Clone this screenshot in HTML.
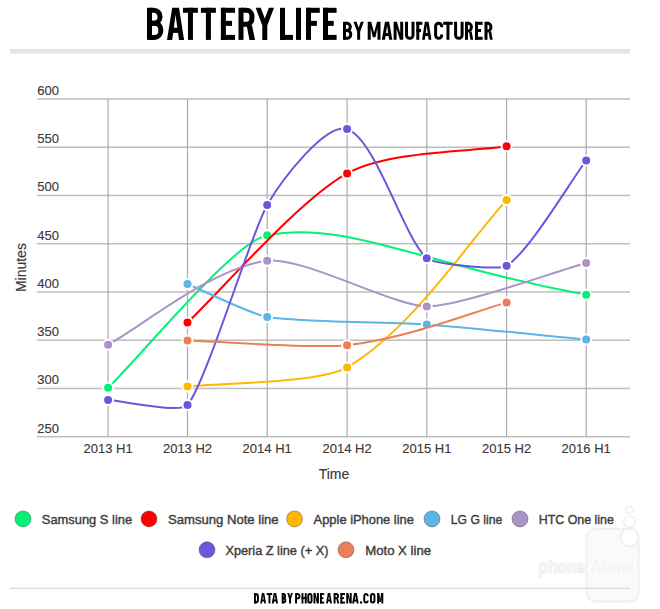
<!DOCTYPE html>
<html><head><meta charset="utf-8"><style>
html,body{margin:0;padding:0;background:#fff;}
body{width:660px;height:609px;overflow:hidden;position:relative;}
svg{position:absolute;left:0;top:0;display:block;}
text{font-family:"Liberation Sans",sans-serif;}
.tx{fill:#3a3a3a;stroke:#3a3a3a;stroke-width:0.15px;}
.lg{fill:#3d3d3d;stroke:#3d3d3d;stroke-width:0.4px;}
</style></head><body>
<svg width="660" height="609" viewBox="0 0 660 609">
<rect x="0" y="0" width="660" height="609" fill="#fff"/>
<g id="title" fill="#000" font-weight="bold">
<rect x="147" y="7.8" width="5" height="32.1"/><path d="M149.5,10.3 H153.74 A6.25,6.25 0 0 1 159.99,16.55 V16.96 A6.25,6.25 0 0 1 153.74,23.21 H149.5" fill="none" stroke="#000" stroke-width="5"/><path d="M149.5,23.21 H154.3 A6.5,6.5 0 0 1 160.8,29.71 V30.9 A6.5,6.5 0 0 1 154.3,37.4 H149.5" fill="none" stroke="#000" stroke-width="5"/><path d="M167,39.9 L172.2,7.8 L179,7.8 L184.1,39.9 L179,39.9 L175.55,14.86 L172.2,39.9 Z"/><rect x="169.6" y="27.7" width="11.9" height="5.2"/><rect x="183" y="7.8" width="14.9" height="5"/><rect x="187.95" y="7.8" width="5" height="32.1"/><rect x="200.9" y="7.8" width="15" height="5"/><rect x="205.9" y="7.8" width="5" height="32.1"/><rect x="220.9" y="7.8" width="5" height="32.1"/><rect x="220.9" y="7.8" width="14.1" height="5"/><rect x="220.9" y="20.87" width="11.14" height="5"/><rect x="220.9" y="34.9" width="14.1" height="5"/><rect x="238.5" y="7.8" width="5" height="32.1"/><path d="M241,10.3 H246.44 A5.5,5.5 0 0 1 251.94,15.8 V18.74 A5.5,5.5 0 0 1 246.44,24.24 H241" fill="none" stroke="#000" stroke-width="5"/><path d="M246.63,25.24 L251.95,25.24 L255.1,39.9 L249.46,39.9 Z"/><path d="M255.6,7.8 L260.7,7.8 L264.8,18.39 L268.9,7.8 L274,7.8 L267.3,25.46 L267.3,39.9 L262.3,39.9 L262.3,25.46 Z"/><rect x="280" y="7.8" width="5" height="32.1"/><rect x="280" y="34.9" width="13" height="5"/><rect x="296" y="7.8" width="5" height="32.1"/><rect x="306" y="7.8" width="5" height="32.1"/><rect x="306" y="7.8" width="13.8" height="5"/><rect x="306" y="20.87" width="10.9" height="5"/><rect x="323" y="7.8" width="5" height="32.1"/><rect x="323" y="7.8" width="13.6" height="5"/><rect x="323" y="20.87" width="10.74" height="5"/><rect x="323" y="34.9" width="13.6" height="5"/><rect x="343" y="21.8" width="3" height="18"/><path d="M344.5,23.3 H346.77 A3.57,3.57 0 0 1 350.34,26.87 V26.87 A3.57,3.57 0 0 1 346.77,30.44 H344.5" fill="none" stroke="#000" stroke-width="3"/><path d="M344.5,30.44 H346.9 A3.9,3.9 0 0 1 350.8,34.34 V34.4 A3.9,3.9 0 0 1 346.9,38.3 H344.5" fill="none" stroke="#000" stroke-width="3"/><path d="M353.5,21.8 L356.56,21.8 L358.65,27.74 L360.74,21.8 L363.8,21.8 L360.15,31.7 L360.15,39.8 L357.15,39.8 L357.15,31.7 Z"/><path d="M367.7,21.8 L371.15,21.8 L374.1,32.6 L377.05,21.8 L380.5,21.8 L380.5,39.8 L377.5,39.8 L377.5,27.74 L375.45,37.28 L372.75,37.28 L370.7,27.74 L370.7,39.8 L367.7,39.8 Z"/><path d="M381.8,39.8 L384.99,21.8 L389.17,21.8 L392.3,39.8 L389.17,39.8 L387.05,25.76 L384.99,39.8 Z"/><rect x="383.4" y="32.96" width="7.31" height="3.12"/><path d="M393.6,21.8 L396.9,21.8 L400.2,32.96 L400.2,21.8 L403.2,21.8 L403.2,39.8 L399.9,39.8 L396.6,28.64 L396.6,39.8 L393.6,39.8 Z"/><path d="M406.5,21.8 V35.3 A3,3 0 0 0 409.5,38.3 H410 A3,3 0 0 0 413,35.3 V21.8" fill="none" stroke="#000" stroke-width="3"/><rect x="416.3" y="21.8" width="3" height="18"/><rect x="416.3" y="21.8" width="6" height="3"/><rect x="416.3" y="29.03" width="4.74" height="3"/><path d="M422,39.8 L424.86,21.8 L428.6,21.8 L431.4,39.8 L428.6,39.8 L426.7,25.76 L424.86,39.8 Z"/><rect x="423.43" y="32.96" width="6.54" height="3.12"/><path d="M441.7,27.2 V26.3 A3,3 0 0 0 438.7,23.3 H438.6 A3,3 0 0 0 435.6,26.3 V35.3 A3,3 0 0 0 438.6,38.3 H438.7 A3,3 0 0 0 441.7,35.3 V34.4" fill="none" stroke="#000" stroke-width="3"/><rect x="443.2" y="21.8" width="9.5" height="3"/><rect x="446.45" y="21.8" width="3" height="18"/><path d="M455.6,21.8 V35.3 A3,3 0 0 0 458.6,38.3 H459.1 A3,3 0 0 0 462.1,35.3 V21.8" fill="none" stroke="#000" stroke-width="3"/><rect x="465" y="21.8" width="3" height="18"/><path d="M466.5,23.3 H468.07 A3.3,3.3 0 0 1 471.37,26.6 V27.62 A3.3,3.3 0 0 1 468.07,30.92 H466.5" fill="none" stroke="#000" stroke-width="3"/><path d="M469.02,31.52 L471.64,31.52 L473.2,39.8 L470.41,39.8 Z"/><rect x="475" y="21.8" width="3" height="18"/><rect x="475" y="21.8" width="7.7" height="3"/><rect x="475" y="29.03" width="6.08" height="3"/><rect x="475" y="36.8" width="7.7" height="3"/><rect x="484.5" y="21.8" width="3" height="18"/><path d="M486,23.3 H487.57 A3.3,3.3 0 0 1 490.87,26.6 V27.62 A3.3,3.3 0 0 1 487.57,30.92 H486" fill="none" stroke="#000" stroke-width="3"/><path d="M488.52,31.52 L491.14,31.52 L492.7,39.8 L489.91,39.8 Z"/>
</g>
<rect x="10" y="49" width="620" height="4.6" fill="#e4e4e4"/>
<g id="grid"><rect x="37" y="98.25" width="593" height="1.5" fill="#bdbdbd"/><rect x="37" y="146.49" width="593" height="1.5" fill="#bdbdbd"/><rect x="37" y="194.74" width="593" height="1.5" fill="#bdbdbd"/><rect x="37" y="242.98" width="593" height="1.5" fill="#bdbdbd"/><rect x="37" y="291.22" width="593" height="1.5" fill="#bdbdbd"/><rect x="37" y="339.46" width="593" height="1.5" fill="#bdbdbd"/><rect x="37" y="387.71" width="593" height="1.5" fill="#bdbdbd"/><rect x="37" y="435.95" width="593" height="1.5" fill="#bdbdbd"/> <rect x="107.50" y="99" width="1.2" height="337.7" fill="#ababab"/><rect x="186.90" y="99" width="1.2" height="337.7" fill="#ababab"/><rect x="266.60" y="99" width="1.2" height="337.7" fill="#ababab"/><rect x="346.50" y="99" width="1.2" height="337.7" fill="#ababab"/><rect x="426.20" y="99" width="1.2" height="337.7" fill="#ababab"/><rect x="506.00" y="99" width="1.2" height="337.7" fill="#ababab"/><rect x="585.60" y="99" width="1.2" height="337.7" fill="#ababab"/></g>
<g class="tx" font-size="13"><text x="37.3" y="94.8">600</text><text x="37.3" y="143.0">550</text><text x="37.3" y="191.3">500</text><text x="37.3" y="239.5">450</text><text x="37.3" y="287.8">400</text><text x="37.3" y="336.0">350</text><text x="37.3" y="384.3">300</text><text x="37.3" y="432.5">250</text> <text x="108.1" y="452.8" text-anchor="middle">2013 H1</text><text x="187.5" y="452.8" text-anchor="middle">2013 H2</text><text x="267.2" y="452.8" text-anchor="middle">2014 H1</text><text x="347.1" y="452.8" text-anchor="middle">2014 H2</text><text x="426.8" y="452.8" text-anchor="middle">2015 H1</text><text x="506.6" y="452.8" text-anchor="middle">2015 H2</text><text x="586.2" y="452.8" text-anchor="middle">2016 H1</text></g>
<text x="334" y="478.9" text-anchor="middle" font-size="14" class="tx">Time</text>
<text transform="translate(25.5,267.6) rotate(-90)" text-anchor="middle" font-size="14" class="tx">Minutes</text>
<g id="lines"><path d="M108.1,387.8 C139.9,357.3 233.8,241.7 267.2,235.2 C345.7,219.9 419.1,263.6 586.2,294.8" fill="none" stroke="#00f276" stroke-width="2"/><circle cx="108.1" cy="387.8" r="5" fill="#00f276" stroke="#fff" stroke-width="2"/><circle cx="267.2" cy="235.2" r="5" fill="#00f276" stroke="#fff" stroke-width="2"/><circle cx="586.2" cy="294.8" r="5" fill="#00f276" stroke="#fff" stroke-width="2"/><path d="M187.5,322.5 C219.4,292.7 298.1,200.5 347.1,173.4 C389.1,150.2 474.7,151.7 506.6,146.3" fill="none" stroke="#ff0000" stroke-width="2"/><circle cx="187.5" cy="322.5" r="5" fill="#ff0000" stroke="#fff" stroke-width="2"/><circle cx="347.1" cy="173.4" r="5" fill="#ff0000" stroke="#fff" stroke-width="2"/><circle cx="506.6" cy="146.3" r="5" fill="#ff0000" stroke="#fff" stroke-width="2"/><path d="M187.5,386.6 C219.4,382.8 319.5,383.5 347.1,367.4 C412.7,329.1 474.7,233.6 506.6,200.1" fill="none" stroke="#ffb800" stroke-width="2"/><circle cx="187.5" cy="386.6" r="5" fill="#ffb800" stroke="#fff" stroke-width="2"/><circle cx="347.1" cy="367.4" r="5" fill="#ffb800" stroke="#fff" stroke-width="2"/><circle cx="506.6" cy="200.1" r="5" fill="#ffb800" stroke="#fff" stroke-width="2"/><path d="M187.5,284.0 C203.4,290.6 250.2,314.0 267.2,316.9 C298.7,322.2 394.9,322.1 426.8,324.4 C458.7,326.7 554.3,336.5 586.2,339.5" fill="none" stroke="#5db4e6" stroke-width="2"/><circle cx="187.5" cy="284.0" r="5" fill="#5db4e6" stroke="#fff" stroke-width="2"/><circle cx="267.2" cy="316.9" r="5" fill="#5db4e6" stroke="#fff" stroke-width="2"/><circle cx="426.8" cy="324.4" r="5" fill="#5db4e6" stroke="#fff" stroke-width="2"/><circle cx="586.2" cy="339.5" r="5" fill="#5db4e6" stroke="#fff" stroke-width="2"/><path d="M108.1,344.7 C139.9,327.9 212.6,267.3 267.2,260.7 C302.9,256.4 393.6,306.2 426.8,306.4 C459.8,306.6 554.3,271.7 586.2,263.0" fill="none" stroke="#ab92c8" stroke-width="2"/><circle cx="108.1" cy="344.7" r="5" fill="#ab92c8" stroke="#fff" stroke-width="2"/><circle cx="267.2" cy="260.7" r="5" fill="#ab92c8" stroke="#fff" stroke-width="2"/><circle cx="426.8" cy="306.4" r="5" fill="#ab92c8" stroke="#fff" stroke-width="2"/><circle cx="586.2" cy="263.0" r="5" fill="#ab92c8" stroke="#fff" stroke-width="2"/><path d="M108.1,400.1 C124.0,401.1 180.5,413.6 187.5,405.1 C206.5,381.9 251.2,232.7 267.2,205.0 C282.2,179.0 326.2,122.1 347.1,129.1 C375.9,138.7 404.0,238.7 426.8,258.2 C433.6,264.1 498.9,270.5 506.6,265.8 C528.8,252.2 570.3,181.6 586.2,160.5" fill="none" stroke="#6c56dc" stroke-width="2"/><circle cx="108.1" cy="400.1" r="5" fill="#6c56dc" stroke="#fff" stroke-width="2"/><circle cx="187.5" cy="405.1" r="5" fill="#6c56dc" stroke="#fff" stroke-width="2"/><circle cx="267.2" cy="205.0" r="5" fill="#6c56dc" stroke="#fff" stroke-width="2"/><circle cx="347.1" cy="129.1" r="5" fill="#6c56dc" stroke="#fff" stroke-width="2"/><circle cx="426.8" cy="258.2" r="5" fill="#6c56dc" stroke="#fff" stroke-width="2"/><circle cx="506.6" cy="265.8" r="5" fill="#6c56dc" stroke="#fff" stroke-width="2"/><circle cx="586.2" cy="160.5" r="5" fill="#6c56dc" stroke="#fff" stroke-width="2"/><path d="M187.5,340.5 C219.4,341.4 315.3,349.0 347.1,345.2 C410.7,337.7 474.7,311.1 506.6,302.6" fill="none" stroke="#e9805a" stroke-width="2"/><circle cx="187.5" cy="340.5" r="5" fill="#e9805a" stroke="#fff" stroke-width="2"/><circle cx="347.1" cy="345.2" r="5" fill="#e9805a" stroke="#fff" stroke-width="2"/><circle cx="506.6" cy="302.6" r="5" fill="#e9805a" stroke="#fff" stroke-width="2"/></g>
<g id="dots"></g>
<g id="legend" font-size="13" class="lg"><circle cx="23.0" cy="518.9" r="8" fill="#00f276"/><text x="41.8" y="524.2" textLength="90.35" lengthAdjust="spacingAndGlyphs">Samsung S line</text><circle cx="149.0" cy="518.9" r="8" fill="#ff0000"/><text x="168.0" y="524.2" textLength="110.65" lengthAdjust="spacingAndGlyphs">Samsung Note line</text><circle cx="294.5" cy="518.9" r="8" fill="#ffb800"/><text x="313.6" y="524.2" textLength="100.30" lengthAdjust="spacingAndGlyphs">Apple iPhone line</text><circle cx="432.0" cy="518.9" r="8" fill="#5db4e6"/><text x="450.8" y="524.2" textLength="51.36" lengthAdjust="spacingAndGlyphs">LG G line</text><circle cx="520.0" cy="518.9" r="8" fill="#ab92c8"/><text x="538.7" y="524.2" textLength="75.22" lengthAdjust="spacingAndGlyphs">HTC One line</text><circle cx="207.0" cy="549.8" r="8" fill="#6c56dc"/><text x="225.4" y="555.1" textLength="103.00" lengthAdjust="spacingAndGlyphs">Xperia Z line (+ X)</text><circle cx="346.0" cy="549.8" r="8" fill="#e9805a"/><text x="365.2" y="555.1" textLength="65.86" lengthAdjust="spacingAndGlyphs">Moto X line</text></g>
<g id="wm">
<rect x="586.5" y="529" width="52" height="72.5" rx="9" fill="#fafafa" stroke="#f0f0f0" stroke-width="2"/>
<circle cx="629.5" cy="537.5" r="9" fill="#fff" stroke="#efefef" stroke-width="1.8"/>
<circle cx="629.5" cy="521.8" r="5.8" fill="#fff" stroke="#efefef" stroke-width="1.6"/>
<circle cx="629.5" cy="510" r="3.8" fill="#fff" stroke="#f0f0f0" stroke-width="1.5"/>
<text x="538.5" y="573" font-size="19" font-weight="bold" fill="#fbfbfb" stroke="#eeeeee" stroke-width="1.2" textLength="46.5" lengthAdjust="spacingAndGlyphs">phone</text>
<text x="590.5" y="573" font-size="18.5" fill="#f3f3f3" textLength="44" lengthAdjust="spacingAndGlyphs">Arena</text>
</g>
<rect x="10" y="587.7" width="620" height="1" fill="#cfcfcf"/>
<g id="footer" fill="#000" font-weight="bold"><rect x="254" y="593.1" width="1.9" height="10.4"/><path d="M254.95,594.05 H255.48 A2.47,2.47 0 0 1 257.95,596.52 V600.08 A2.47,2.47 0 0 1 255.48,602.55 H254.95" fill="none" stroke="#000" stroke-width="1.9"/><path d="M260.2,603.5 L261.96,593.1 L264.27,593.1 L266,603.5 L264.27,603.5 L263.1,595.39 L261.96,603.5 Z"/><rect x="261.08" y="599.55" width="4.04" height="1.98"/><rect x="266.7" y="593.1" width="5.5" height="1.9"/><rect x="268.5" y="593.1" width="1.9" height="10.4"/><path d="M271.8,603.5 L273.68,593.1 L276.15,593.1 L278,603.5 L276.15,603.5 L274.9,595.39 L273.68,603.5 Z"/><rect x="272.74" y="599.55" width="4.32" height="1.98"/><rect x="281.7" y="593.1" width="1.9" height="10.4"/><path d="M282.65,594.05 H283.1 A2.02,2.02 0 0 1 285.12,596.07 V596.07 A2.02,2.02 0 0 1 283.1,598.09 H282.65" fill="none" stroke="#000" stroke-width="1.9"/><path d="M282.65,598.09 H283.12 A2.23,2.23 0 0 1 285.35,600.32 V600.32 A2.23,2.23 0 0 1 283.12,602.55 H282.65" fill="none" stroke="#000" stroke-width="1.9"/><path d="M287.2,593.1 L289.14,593.1 L290.05,596.53 L290.96,593.1 L292.9,593.1 L291,598.82 L291,603.5 L289.1,603.5 L289.1,598.82 Z"/><rect x="295.1" y="593.1" width="1.9" height="10.4"/><path d="M296.05,594.05 H297.38 A2.17,2.17 0 0 1 299.55,596.22 V596.22 A2.17,2.17 0 0 1 297.38,598.39 H296.05" fill="none" stroke="#000" stroke-width="1.9"/><rect x="301.5" y="593.1" width="1.9" height="10.4"/><rect x="304.8" y="593.1" width="1.9" height="10.4"/><rect x="301.5" y="597.14" width="5.2" height="1.9"/><rect x="308.25" y="594.05" width="3.3" height="8.5" rx="1.65" fill="none" stroke="#000" stroke-width="1.9"/><path d="M313.5,593.1 L315.59,593.1 L317,599.55 L317,593.1 L318.9,593.1 L318.9,603.5 L316.81,603.5 L315.4,597.05 L315.4,603.5 L313.5,603.5 Z"/><rect x="320" y="593.1" width="1.9" height="10.4"/><rect x="320" y="593.1" width="4.2" height="1.9"/><rect x="320" y="597.19" width="3.32" height="1.9"/><rect x="320" y="601.6" width="4.2" height="1.9"/><path d="M326.1,603.5 L327.86,593.1 L330.17,593.1 L331.9,603.5 L330.17,603.5 L329,595.39 L327.86,603.5 Z"/><rect x="326.98" y="599.55" width="4.04" height="1.98"/><rect x="333.6" y="593.1" width="1.9" height="10.4"/><path d="M334.55,594.05 H335.94 A2.09,2.09 0 0 1 338.03,596.14 V596.2 A2.09,2.09 0 0 1 335.94,598.29 H334.55" fill="none" stroke="#000" stroke-width="1.9"/><path d="M336.34,598.67 L338.14,598.67 L339.2,603.5 L337.3,603.5 Z"/><rect x="340.4" y="593.1" width="1.9" height="10.4"/><rect x="340.4" y="593.1" width="4.6" height="1.9"/><rect x="340.4" y="597.19" width="3.63" height="1.9"/><rect x="340.4" y="601.6" width="4.6" height="1.9"/><path d="M346.25,593.1 L348.34,593.1 L349.8,599.55 L349.8,593.1 L351.7,593.1 L351.7,603.5 L349.61,603.5 L348.15,597.05 L348.15,603.5 L346.25,603.5 Z"/><path d="M352.1,603.5 L354.12,593.1 L356.77,593.1 L358.75,603.5 L356.77,603.5 L355.43,595.39 L354.12,603.5 Z"/><rect x="353.11" y="599.55" width="4.63" height="1.98"/><rect x="360" y="601.4" width="2.1" height="2.1"/><path d="M367.8,596.22 V595.83 A1.77,1.77 0 0 0 366.02,594.05 H366.02 A1.77,1.77 0 0 0 364.25,595.83 V600.77 A1.77,1.77 0 0 0 366.02,602.55 H366.02 A1.77,1.77 0 0 0 367.8,600.77 V600.38" fill="none" stroke="#000" stroke-width="1.9"/><rect x="370.95" y="594.05" width="3.5" height="8.5" rx="1.75" fill="none" stroke="#000" stroke-width="1.9"/><path d="M377.1,593.1 L379.29,593.1 L380.2,599.34 L381.12,593.1 L383.3,593.1 L383.3,603.5 L381.4,603.5 L381.4,596.53 L381.06,602.04 L379.35,602.04 L379,596.53 L379,603.5 L377.1,603.5 Z"/></g>
</svg>
</body></html>
